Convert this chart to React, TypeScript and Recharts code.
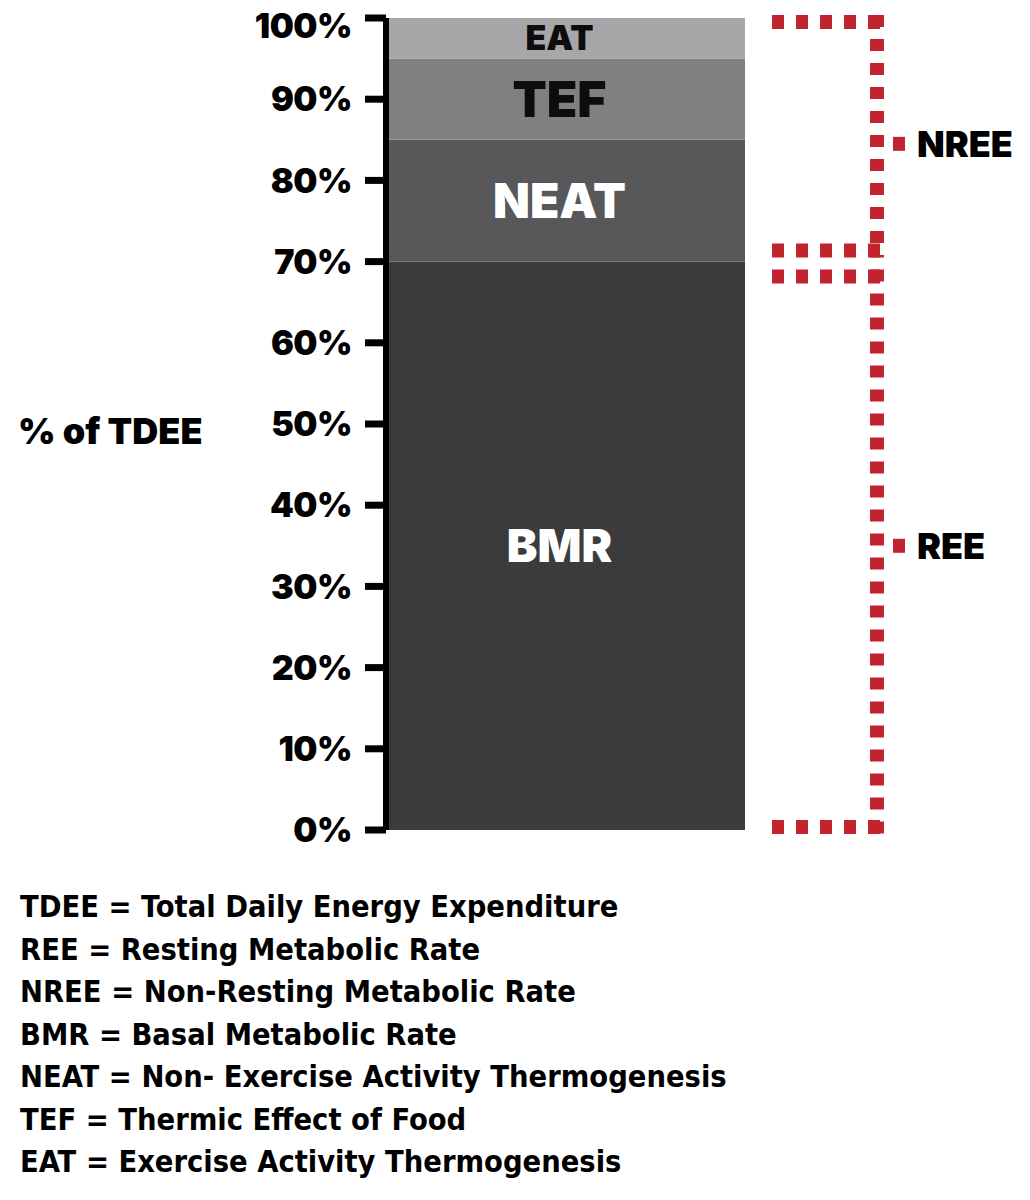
import React from 'react';
import { BarChart, Bar, XAxis, YAxis, LabelList, ReferenceArea, Label } from 'recharts';

// ---- data ----
const categories = ['BMR', 'NEAT', 'TEF', 'EAT'];
const shares = [70, 15, 10, 5];
const yTicks = [0, 10, 20, 30, 40, 50, 60, 70, 80, 90, 100];
const bracketLabels = ['NREE', 'REE'];
const bracketLabelAt = [84.5, 35];
const legendLines = [
  'TDEE = Total Daily Energy Expenditure',
  'REE = Resting Metabolic Rate',
  'NREE = Non-Resting Metabolic Rate',
  'BMR = Basal Metabolic Rate',
  'NEAT = Non- Exercise Activity Thermogenesis',
  'TEF = Thermic Effect of Food',
  'EAT = Exercise Activity Thermogenesis',
];

// ---- styles ----
const fillColors: Record<string, string> = { BMR: '#3b3b3d', NEAT: '#58585a', TEF: '#808083', EAT: '#a7a7aa' };
const textColors: Record<string, string> = { BMR: '#ffffff', NEAT: '#ffffff', TEF: '#0d0d0d', EAT: '#0d0d0d' };
const labelSizes: Record<string, number> = { BMR: 46, NEAT: 48, TEF: 50, EAT: 34 };
const RED = '#c1232f';
const HEAVY = 'Inter, Roboto, "Open Sans", sans-serif';
const NARROW = '"Liberation Sans Narrow", "DejaVu Sans Condensed", "Roboto Condensed", sans-serif';

const total = shares.reduce((a, b) => a + b, 0);
const row: Record<string, any> = { name: 'TDEE' };
categories.forEach((c, i) => { row[c] = shares[i]; });
const chartData = [row];

const bracketRanges = [
  { from: shares[0], to: total },
  { from: 0, to: shares[0] },
];

function BracketShape(props: any) {
  const { x, y, width, height, insetTop, insetBottom, from, to, labelAt, text } = props;
  const R = x + width;
  const x0 = R + 27;
  const xv = R + 132;
  const yt = y + insetTop;
  const yb = y + height - insetBottom;
  const ly = y + (height * (to - labelAt)) / (to - from);
  const common = { stroke: RED, strokeWidth: 14, strokeDasharray: '12 12', fill: 'none' };
  return (
    <g>
      <line x1={x0} x2={xv + 7} y1={yt} y2={yt} {...common} />
      <line x1={xv} x2={xv} y1={yt - 7} y2={yb + 7} {...common} />
      <line x1={x0} x2={xv + 7} y1={yb} y2={yb} {...common} />
      <line x1={R + 148} x2={R + 160} y1={ly} y2={ly} stroke={RED} strokeWidth={14} />
      <text x={R + 172} y={ly} dy="0.36em" fontFamily={HEAVY} fontWeight={900} fontSize={36} fill="#000">
        {text}
      </text>
    </g>
  );
}

function YTick(props: any) {
  const { x, y, payload } = props;
  const shift = payload.value === 100 ? 8 : 0;
  return (
    <text
      x={x}
      y={y + shift}
      dy="0.36em"
      textAnchor="end"
      fill="#000"
      fontSize={34}
      fontWeight={900}
      fontFamily={HEAVY}
      letterSpacing={-0.5}
    >
      {`${payload.value}%`}
    </text>
  );
}

export default function App() {
  return (
    <div style={{ position: 'absolute', left: 0, top: 0, width: 1030, height: 1200, background: '#fff' }}>
      <BarChart
        width={1030}
        height={870}
        data={chartData}
        margin={{ top: 18, right: 285, bottom: 40, left: 0 }}
        barCategoryGap={0}
      >
        <XAxis dataKey="name" hide />
        <YAxis
          type="number"
          domain={[0, 100]}
          ticks={yTicks}
          interval={0}
          width={386}
          axisLine={{ stroke: '#000', strokeWidth: 6 }}
          tickLine={{ stroke: '#000', strokeWidth: 7 }}
          tickSize={21}
          tickMargin={13}
          tick={<YTick />}
        >
          <Label
            value="% of TDEE"
            position="insideLeft"
            offset={18}
            dy={7}
            fill="#000"
            fontSize={36}
            fontWeight={900}
            fontFamily={HEAVY}
          />
        </YAxis>
        {categories.map((c) => (
          <Bar key={c} dataKey={c} stackId="a" fill={fillColors[c]} isAnimationActive={false}>
            <LabelList
              dataKey={c}
              position="center"
              formatter={() => c}
              fill={textColors[c]}
              fontSize={labelSizes[c]}
              fontWeight={900}
              fontFamily={HEAVY}
              dx={-6}
            />
          </Bar>
        ))}
        {bracketRanges.map((b, i) => (
          <ReferenceArea
            key={bracketLabels[i]}
            y1={b.from}
            y2={b.to}
            fill="none"
            stroke="none"
            shape={(p: any) => (
              <BracketShape
                {...p}
                insetTop={i === 0 ? 4 : 15}
                insetBottom={i === 0 ? 11 : 3}
                from={b.from}
                to={b.to}
                labelAt={bracketLabelAt[i]}
                text={bracketLabels[i]}
              />
            )}
          />
        ))}
      </BarChart>
      <svg width={1030} height={330} style={{ position: 'absolute', left: 0, top: 870 }}>
        {legendLines.map((t, i) => (
          <text key={t} x={20} y={47 + i * 42.5} fontFamily={NARROW} fontWeight={700} fontSize={30.5} fill="#000">
            {t}
          </text>
        ))}
      </svg>
    </div>
  );
}
